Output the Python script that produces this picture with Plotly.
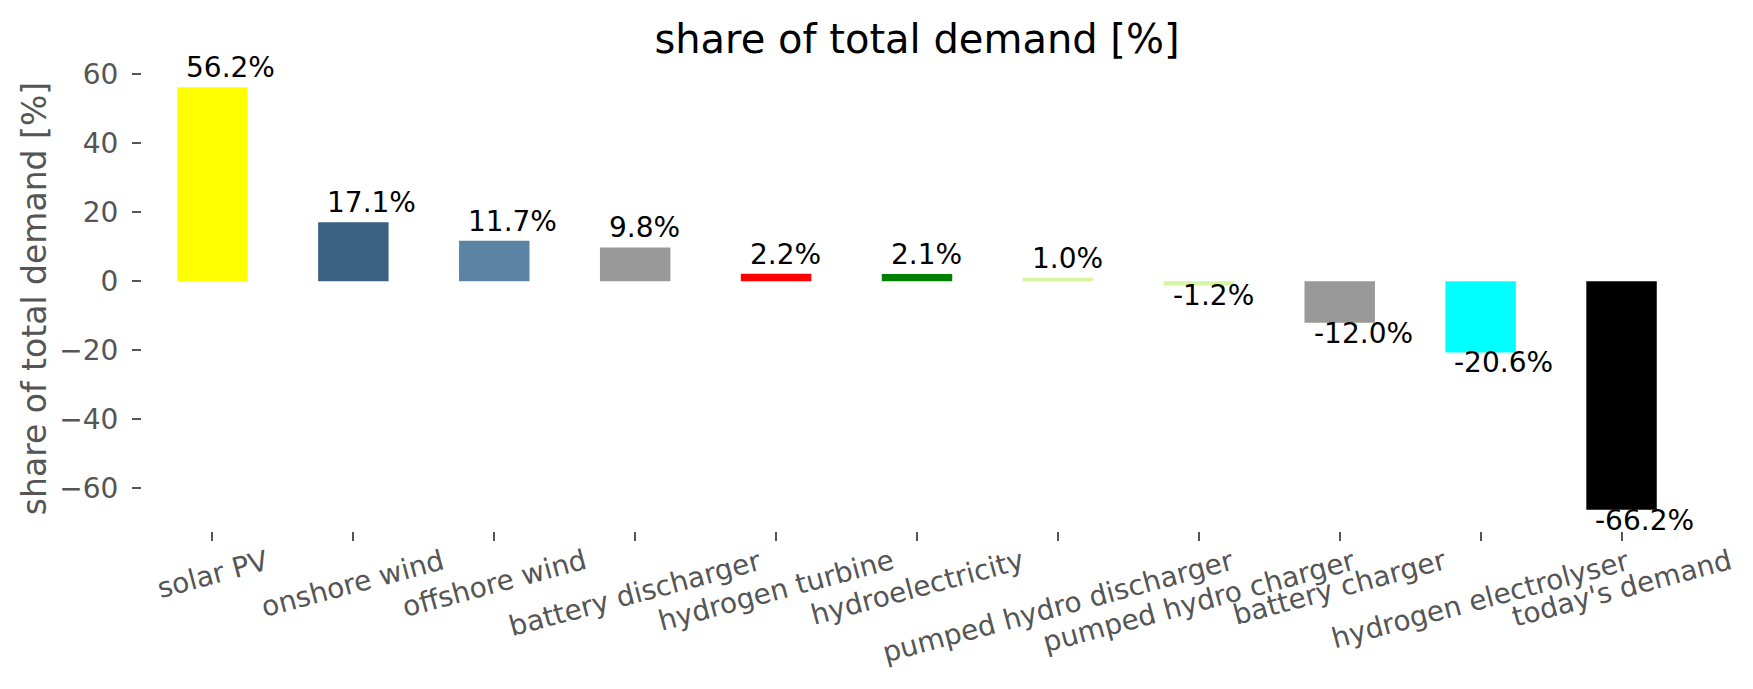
import plotly.graph_objects as go

# share of total demand per technology
categories = [
    "solar PV", "onshore wind", "offshore wind", "battery discharger",
    "hydrogen turbine", "hydroelectricity", "pumped hydro discharger",
    "pumped hydro charger", "battery charger", "hydrogen electrolyser",
    "today's demand",
]
shares = [56.2, 17.1, 11.7, 9.8, 2.2, 2.1, 1.0, -1.2, -12.0, -20.6, -66.2]
colors = [
    "#ffff00", "#3a6082", "#5b83a4", "#999999", "#ff0000", "#008000",
    "#d6f5a0", "#d6f5a0", "#999999", "#00ffff", "#000000",
]

x = list(range(len(categories)))
lo, hi = min(shares + [0]), max(shares + [0])
pad = 0.05 * (hi - lo)

fig = go.Figure()
fig.add_trace(go.Bar(
    x=x, y=shares, width=0.5,
    marker=dict(color=colors, line=dict(width=0)),
    showlegend=False,
))

# value labels, left aligned on the bar edge like the matplotlib annotate
for i, v in zip(x, shares):
    fig.add_annotation(
        x=i - 0.25, y=v, xref="x", yref="y",
        text=f"{v:.1f}%", showarrow=False,
        xanchor="left", yanchor="bottom" if v >= 0 else "top",
        xshift=7, yshift=1 if v >= 0 else 8,
        font=dict(size=28, color="black", family="DejaVu Sans"),
    )

# category labels, rotated about their centre
for i, name in zip(x, categories):
    fig.add_annotation(
        x=i, y=0, xref="x", yref="paper",
        text=name, showarrow=False, textangle=-15,
        xanchor="center", yanchor="top", yshift=-10,
        font=dict(size=28, color="#555555", family="DejaVu Sans"),
    )

# the page body adds 8px around the figure, so margins are trimmed by that
fig.update_layout(
    width=1753, height=689,
    margin=dict(l=134, r=69, t=58, b=166),
    paper_bgcolor="white", plot_bgcolor="white",
    font=dict(family="DejaVu Sans", color="#555555", size=28),
    title=dict(
        text="share of total demand [%]", x=0.5, xref="paper",
        y=1 - 31 / 689, yref="container", yanchor="middle", xanchor="center",
        font=dict(size=40, color="black", family="DejaVu Sans"),
    ),
    xaxis=dict(
        range=[-0.5, len(categories) - 0.5], tickvals=x, showticklabels=False,
        ticks="outside", ticklen=9, tickwidth=2, tickcolor="#555555",
        showgrid=False, zeroline=False, showline=False, automargin=False,
    ),
    yaxis=dict(
        range=[lo - pad, hi + pad], tickvals=[-60, -40, -20, 0, 20, 40, 60],
        ticks="outside", ticklen=9, tickwidth=2, tickcolor="#555555",
        ticklabelstandoff=8, automargin=False,
        tickfont=dict(size=28, color="#555555"),
        showgrid=False, zeroline=False, showline=False,
        title=dict(text="share of total demand [%]", standoff=2,
                   font=dict(size=33, color="#555555")),
    ),
)

fig.write_html("out.html")
